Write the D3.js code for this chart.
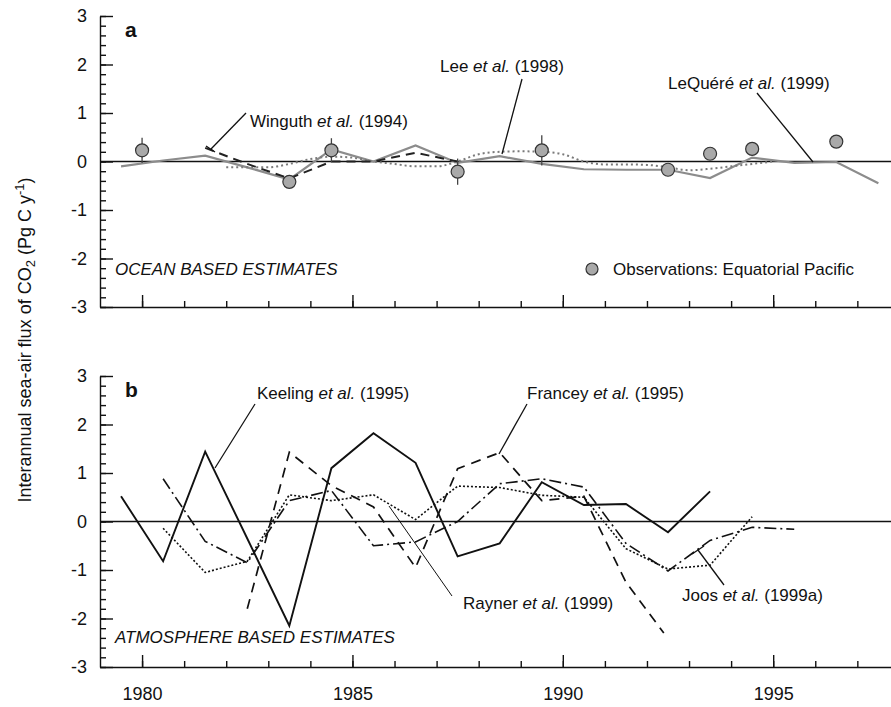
<!DOCTYPE html>
<html>
<head>
<meta charset="utf-8">
<script src="https://cdn.jsdelivr.net/npm/d3@7"></script>
<style>
  body { margin: 0; background: #fff; }
  svg { display: block; font-family: 'Liberation Sans', Arial, Helvetica, sans-serif; }
</style>
</head>
<body>
<div id="app"></div>
<script>
// ---- panel a: ocean based estimates ----
const obsYears = [1980.0, 1983.5, 1984.5, 1987.5, 1989.5, 1992.5, 1993.5, 1994.5, 1996.5];
const obsValues = [0.23, -0.42, 0.23, -0.21, 0.23, -0.17, 0.16, 0.26, 0.41];
const obsErr = [0.26, 0, 0.25, 0.27, 0.31, 0, 0, 0, 0];

const lequereYears = [1979.5, 1980.5, 1981.5, 1982.5, 1983.5, 1984.5, 1985.5, 1986.5, 1987.5, 1988.5,
  1989.5, 1990.5, 1991.5, 1992.5, 1993.5, 1994.5, 1995.5, 1996.5, 1997.5];
const lequereValues = [-0.1, 0.02, 0.12, -0.12, -0.37, 0.25, 0.0, 0.33, -0.03, 0.11,
  -0.05, -0.16, -0.17, -0.17, -0.34, 0.08, -0.03, -0.01, -0.45];

const winguthYears = [1981.5, 1982.5, 1983.5, 1984.5, 1985.5, 1986.5, 1987.5];
const winguthValues = [0.28, -0.05, -0.35, 0.0, 0.0, 0.18, 0.0];

const leeYears = [1982.0, 1983.0, 1983.5, 1984.0, 1984.5, 1985.0, 1985.5, 1986.0, 1986.5, 1987.0,
  1987.5, 1988.0, 1988.5, 1989.0, 1989.5, 1990.0, 1990.5, 1991.0, 1991.5, 1992.0,
  1992.5, 1993.0, 1993.5, 1994.0, 1994.5, 1995.0];
const leeValues = [-0.12, -0.12, -0.05, 0.05, 0.1, 0.08, 0.0, -0.05, -0.1, -0.1,
  0.0, 0.15, 0.2, 0.21, 0.2, 0.15, 0.0, -0.06, -0.06, -0.07,
  -0.12, -0.18, -0.15, -0.1, -0.05, 0.0];

// ---- panel b: atmosphere based estimates ----
const keelingYears = [1979.5, 1980.5, 1981.5, 1982.5, 1983.5, 1984.5, 1985.5, 1986.5, 1987.5,
  1988.5, 1989.5, 1990.5, 1991.5, 1992.5, 1993.5];
const keelingValues = [0.52, -0.82, 1.44, -0.35, -2.15, 1.1, 1.82, 1.21, -0.72,
  -0.45, 0.81, 0.34, 0.36, -0.22, 0.62];

const franceyYears = [1982.5, 1983.5, 1984.5, 1985.5, 1986.5, 1987.5, 1988.5, 1989.5, 1990.5, 1991.5, 1992.4];
const franceyValues = [-1.8, 1.43, 0.74, 0.3, -0.95, 1.09, 1.42, 0.43, 0.52, -1.25, -2.3];

const raynerYears = [1980.5, 1981.5, 1982.5, 1983.5, 1984.5, 1985.5, 1986.5, 1987.5, 1988.5,
  1989.5, 1990.5, 1991.5, 1992.5, 1993.5, 1994.5];
const raynerValues = [-0.14, -1.05, -0.82, 0.55, 0.43, 0.55, 0.04, 0.73, 0.7,
  0.54, 0.5, -0.56, -0.98, -0.9, 0.1];

const joosYears = [1980.5, 1981.5, 1982.5, 1983.5, 1984.5, 1985.5, 1986.5, 1987.5, 1988.5,
  1989.5, 1990.5, 1991.5, 1992.5, 1993.5, 1994.5, 1995.5];
const joosValues = [0.88, -0.41, -0.85, 0.43, 0.64, -0.5, -0.42, 0.0, 0.78,
  0.88, 0.71, -0.45, -1.02, -0.39, -0.12, -0.16];

// ---- ticks ----
const yTicks = [-3, -2, -1, 0, 1, 2, 3];
const xTickLabels = [1980, 1985, 1990, 1995];

const width = 891;
const height = 707;
const zip = (xs, ys) => xs.map((v, i) => [v, ys[i]]);

const svg = d3.select('#app').append('svg')
  .attr('width', width)
  .attr('height', height);

const x = d3.scaleLinear().domain([1979, 1997.8]).range([100, 891]);

const panels = [
  { id: 'a', top: 16, bottom: 307 },
  { id: 'b', top: 376, bottom: 667 },
];

panels.forEach((p) => {
  p.y = d3.scaleLinear().domain([-3, 3]).range([p.bottom, p.top]);
  const g = svg.append('g').attr('class', 'panel-' + p.id);
  p.g = g;

  // y axis, minor then major ticks pointing inward
  g.append('g')
    .attr('transform', 'translate(100,0)')
    .call(d3.axisLeft(p.y).tickValues(d3.range(-3, 3.001, 0.2)).tickSize(-6).tickSizeOuter(0).tickFormat(''))
    .call((s) => s.select('.domain').remove());
  g.append('g')
    .attr('class', 'y-major')
    .attr('transform', 'translate(100,0)')
    .call(d3.axisLeft(p.y).tickValues(yTicks).tickSize(-13).tickSizeOuter(0).tickPadding(13).tickFormat((d) => String(d)))
    .call((s) => s.selectAll('text').attr('font-size', 18).attr('fill', '#111').attr('font-family', null));

  // x axis
  g.append('g')
    .attr('transform', `translate(0,${p.bottom})`)
    .call(d3.axisBottom(x).tickValues(d3.range(1980, 1998)).tickSize(-6).tickSizeOuter(0).tickFormat(''))
    .call((s) => s.select('.domain').remove());
  g.append('g')
    .attr('transform', `translate(0,${p.bottom})`)
    .call(d3.axisBottom(x).tickValues(xTickLabels).tickSize(-12).tickSizeOuter(0).tickPadding(20)
      .tickFormat(p.id === 'b' ? (d) => String(d) : () => ''))
    .call((s) => s.selectAll('text').attr('font-size', 18).attr('fill', '#111').attr('font-family', null));

  g.selectAll('.domain, .tick line').attr('stroke', '#111').attr('stroke-width', 1.4);

  // zero line
  g.append('line')
    .attr('x1', 100).attr('x2', width)
    .attr('y1', p.y(0)).attr('y2', p.y(0))
    .attr('stroke', '#111').attr('stroke-width', 1.3);

  // panel letter
  g.append('text')
    .attr('x', 125).attr('y', p.top + 21)
    .attr('font-size', 21).attr('font-weight', 'bold').attr('fill', '#111')
    .text(p.id);
});

const [pa, pb] = panels;

const lineA = d3.line().x((d) => x(d[0])).y((d) => pa.y(d[1]));
const lineB = d3.line().x((d) => x(d[0])).y((d) => pb.y(d[1]));

// panel a series
pa.g.append('path')
  .attr('d', lineA(zip(lequereYears, lequereValues)))
  .attr('fill', 'none').attr('stroke', '#8c8c8c').attr('stroke-width', 2.2);
pa.g.append('path')
  .attr('d', lineA.curve(d3.curveMonotoneX)(zip(leeYears, leeValues)))
  .attr('fill', 'none').attr('stroke', '#7a7a7a').attr('stroke-width', 2).attr('stroke-dasharray', '2,3');
lineA.curve(d3.curveLinear);
pa.g.append('path')
  .attr('d', lineA(zip(winguthYears, winguthValues)))
  .attr('fill', 'none').attr('stroke', '#222').attr('stroke-width', 2).attr('stroke-dasharray', '9,6');

const obs = zip(obsYears, obsValues).map((d, i) => ({ yr: d[0], v: d[1], e: obsErr[i] }));
pa.g.selectAll('.err').data(obs.filter((d) => d.e > 0)).enter().append('line')
  .attr('x1', (d) => x(d.yr)).attr('x2', (d) => x(d.yr))
  .attr('y1', (d) => pa.y(d.v - d.e)).attr('y2', (d) => pa.y(d.v + d.e))
  .attr('stroke', '#444').attr('stroke-width', 1.3);
pa.g.selectAll('.obs').data(obs).enter().append('circle')
  .attr('cx', (d) => x(d.yr)).attr('cy', (d) => pa.y(d.v)).attr('r', 6.5)
  .attr('fill', '#a9a9a9').attr('stroke', '#333').attr('stroke-width', 1.2);

// panel b series
const bStyles = [
  { yrs: keelingYears, vals: keelingValues, dash: null, w: 1.9 },
  { yrs: franceyYears, vals: franceyValues, dash: '10,7', w: 1.7 },
  { yrs: raynerYears, vals: raynerValues, dash: '2,2', w: 1.6 },
  { yrs: joosYears, vals: joosValues, dash: '12,4,2,4', w: 1.6 },
];
bStyles.forEach((s) => {
  pb.g.append('path')
    .attr('d', lineB(zip(s.yrs, s.vals)))
    .attr('fill', 'none').attr('stroke', '#111').attr('stroke-width', s.w)
    .attr('stroke-dasharray', s.dash);
});

// annotations
function label(g, xPos, yPos, name, year) {
  const t = g.append('text').attr('x', xPos).attr('y', yPos).attr('font-size', 17).attr('fill', '#111');
  t.append('tspan').text(name + ' ');
  t.append('tspan').attr('font-style', 'italic').text('et al.');
  t.append('tspan').text(' (' + year + ')');
}
function leader(g, x1, y1, x2, y2, w) {
  g.append('line').attr('x1', x1).attr('y1', y1).attr('x2', x2).attr('y2', y2)
    .attr('stroke', '#111').attr('stroke-width', w || 1.3);
}

label(pa.g, 250, 127, 'Winguth', '1994');
leader(pa.g, 211, 149, 246, 113);
leader(pa.g, 206, 146, 215, 152);
label(pa.g, 440, 72, 'Lee', '1998');
leader(pa.g, 502, 154, 522, 79);
label(pa.g, 668, 89, 'LeQuéré', '1999');
leader(pa.g, 813, 162, 757, 93);

label(pb.g, 257, 399, 'Keeling', '1995');
leader(pb.g, 215, 468, 255, 404);
label(pb.g, 527, 399, 'Francey', '1995');
leader(pb.g, 499, 454, 527, 404);
label(pb.g, 463, 609, 'Rayner', '1999');
leader(pb.g, 389, 506, 452, 596, 1);
label(pb.g, 682, 601, 'Joos', '1999a');
leader(pb.g, 698, 550, 724, 585);
leader(pb.g, 692, 554, 704, 546);

// in-panel captions
pa.g.append('text').attr('x', 115).attr('y', 275).attr('font-size', 17).attr('font-style', 'italic')
  .attr('fill', '#111').text('OCEAN BASED ESTIMATES');
pb.g.append('text').attr('x', 115).attr('y', 643).attr('font-size', 17).attr('font-style', 'italic')
  .attr('fill', '#111').text('ATMOSPHERE BASED ESTIMATES');

// legend
pa.g.append('circle').attr('cx', 592).attr('cy', 269).attr('r', 6)
  .attr('fill', '#a9a9a9').attr('stroke', '#333').attr('stroke-width', 1.2);
pa.g.append('text').attr('x', 613).attr('y', 275).attr('font-size', 17).attr('fill', '#111')
  .text('Observations: Equatorial Pacific');

// y axis title
const title = svg.append('text')
  .attr('transform', 'translate(31,340) rotate(-90)')
  .attr('text-anchor', 'middle').attr('font-size', 18).attr('fill', '#111');
title.append('tspan').text('Interannual sea-air flux of CO');
title.append('tspan').attr('font-size', 13).attr('dy', 4).text('2');
title.append('tspan').attr('dy', -4).text(' (Pg C y');
title.append('tspan').attr('font-size', 13).attr('dy', -7).text('-1');
title.append('tspan').attr('dy', 7).text(')');
</script>
</body>
</html>
